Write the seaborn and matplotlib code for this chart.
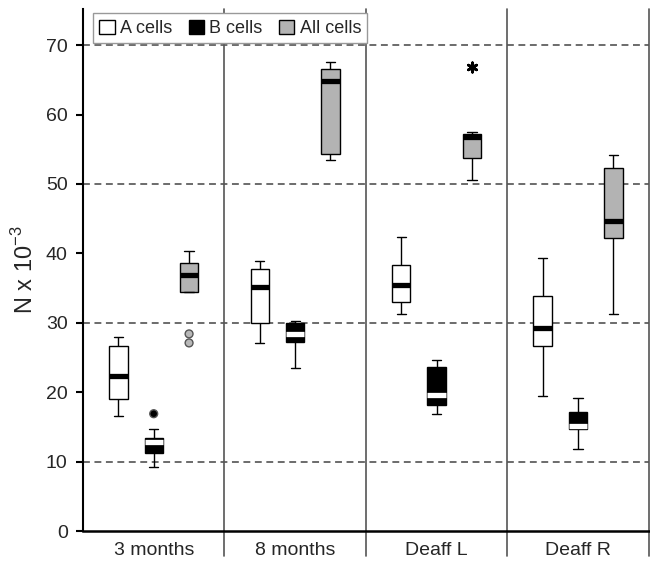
import pandas as pd
import matplotlib.pyplot as plt
import seaborn as sns


GROUPS = ["3 months", "8 months", "Deaff L", "Deaff R"]
CELLS = ["A cells", "B cells", "All cells"]

# lower whisker, Q1, median, Q3, upper whisker per group (N x 10^-3)
A_CELLS = [
    [16.6, 19.0, 22.3, 26.7, 27.9],
    [27.1, 30.0, 35.2, 37.7, 38.9],
    [31.3, 33.0, 35.4, 38.3, 42.3],
    [19.5, 26.6, 29.2, 33.9, 39.4],
]
B_CELLS = [
    [9.2, 11.3, 12.8, 13.4, 14.7],
    [23.5, 27.2, 28.4, 29.9, 30.3],
    [16.9, 18.2, 19.6, 23.6, 24.7],
    [11.8, 14.7, 15.2, 17.2, 19.1],
]
ALL_CELLS = [
    [34.4, 34.4, 36.9, 38.6, 40.4],
    [53.4, 54.3, 64.8, 66.6, 67.6],
    [50.6, 53.8, 56.8, 57.2, 57.5],
    [31.2, 42.2, 44.6, 52.3, 54.2],
]

OUTLIER_GROUP = ["3 months", "3 months", "3 months", "Deaff L"]
OUTLIER_CELL = ["B cells", "All cells", "All cells", "All cells"]
OUTLIER_VALUE = [16.9, 28.4, 27.1, 66.8]
OUTLIER_EXTREME = [False, False, False, True]

CELL_COLORS = {"A cells": "white", "B cells": "black", "All cells": "#b3b3b3"}


def build_box_data():
    rows = []
    for cell, boxes in zip(CELLS, [A_CELLS, B_CELLS, ALL_CELLS]):
        for group, stats in zip(GROUPS, boxes):
            for v in stats:
                rows.append({"group": group, "cell": cell, "n": v})
    return pd.DataFrame(rows)


def build_outliers():
    out = pd.DataFrame({
        "group": OUTLIER_GROUP,
        "cell": OUTLIER_CELL,
        "n": OUTLIER_VALUE,
        "extreme": OUTLIER_EXTREME,
    })
    # same dodge offsets seaborn uses for 3 hue levels with width=0.75
    out["x"] = out["group"].map(GROUPS.index) + (out["cell"].map(CELLS.index) - 1) * 0.25
    return out


sns.set_style("ticks")
plt.rcParams["font.family"] = ["Liberation Sans", "DejaVu Sans"]

df = build_box_data()
outliers = build_outliers()

fig, ax = plt.subplots(figsize=(6.5, 5.66), dpi=100)
fig.subplots_adjust(left=0.1277, right=0.998, bottom=0.0618, top=0.984)

for y in [10, 30, 50, 70]:
    ax.axhline(y, color="#444444", lw=1.1, ls=(0, (4.5, 3)), zorder=0.5)

sns.boxplot(
    data=df, x="group", y="n", hue="cell",
    order=GROUPS, hue_order=CELLS, palette=CELL_COLORS, saturation=1,
    width=0.75, gap=0.48, whis=(0, 100), showfliers=False,
    linecolor="black", linewidth=1,
    medianprops={"linewidth": 3.8, "solid_capstyle": "butt"},
    ax=ax,
)

for i, cont in enumerate(ax.containers):
    for m in getattr(cont, "medians", []):
        m.set_color("white" if i == 1 else "black")
        m.set_linewidth(3.8)

circles = outliers[~outliers["extreme"]]
stars = outliers[outliers["extreme"]]
sns.scatterplot(data=circles, x="x", y="n", hue="cell",
                palette={"B cells": "black", "All cells": "#b8b8b8"},
                edgecolor="#555555", linewidth=1, s=32, legend=False, ax=ax, zorder=3)
ax.scatter(stars["x"], stars["n"], marker=(6, 2, 0), s=45, linewidths=2,
           color="black", zorder=3)

for x in [0.5, 1.5, 2.5, 3.5]:
    ax.axvline(x, ymin=-0.048, ymax=1, color="#555555", lw=1.2, clip_on=False, zorder=1)

ax.set_xlim(-0.5, 3.5)
ax.set_ylim(0, 75.2)
ax.set_yticks(range(0, 71, 10))

sns.despine(ax=ax)
ax.spines["left"].set_linewidth(1.5)
ax.spines["bottom"].set_linewidth(1.8)
ax.spines["left"].set_color("black")
ax.spines["bottom"].set_color("black")

ax.tick_params(axis="y", length=5, width=1.5, labelsize=14, color="black", pad=6)
ax.tick_params(axis="x", length=0, pad=8, labelsize=14)

ax.set_xlabel("")
ax.set_ylabel("N x 10$^{\\mathregular{-3}}$", fontsize=17, labelpad=6)

sns.move_legend(
    ax, "upper left", bbox_to_anchor=(0.0177, 0.992), ncol=3, title=None,
    frameon=True, fontsize=13, handlelength=0.85, handleheight=0.85,
    handletextpad=0.3, columnspacing=0.9, borderaxespad=0, borderpad=0.35,
    fancybox=False, edgecolor="#999999", framealpha=1,
)

fig.savefig("out.png", dpi=100)
plt.close(fig)
